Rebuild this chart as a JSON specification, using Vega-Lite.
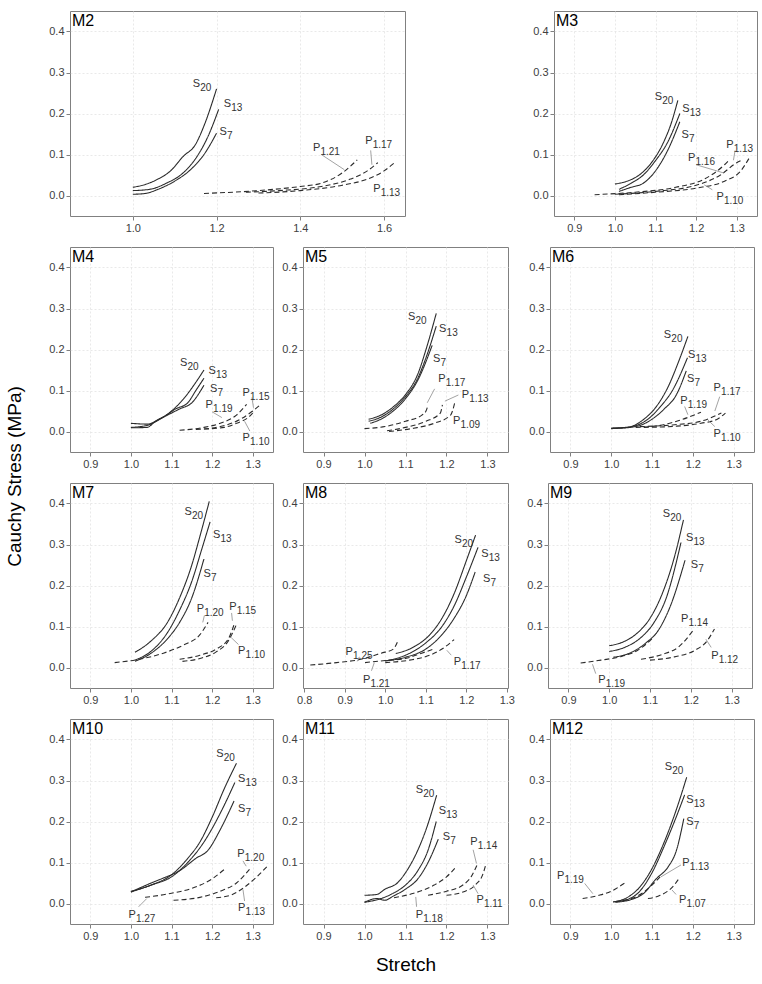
{
"$schema": "https://vega.github.io/schema/vega-lite/v6.json",
"padding": {"left": 5, "top": 10, "right": 5, "bottom": 4},
"title": {"text": "Cauchy Stress (MPa)", "orient": "left", "anchor": "middle", "fontSize": 19, "fontWeight": "normal", "font": "Liberation Sans", "color": "#000", "offset": 14, "dx": 16},
"config": {
  "font": "Liberation Sans",
  "view": {"stroke": "#808080", "strokeWidth": 1},
  "axis": {"labelFont": "Liberation Sans", "labelFontSize": 11, "labelColor": "#404040", "tickColor": "#808080", "tickSize": 4, "labelPadding": 2, "domain": false, "grid": true, "gridColor": "#e3e3e3", "gridDash": [2, 2], "gridWidth": 0.8, "titleFont": "Liberation Sans", "titleFontWeight": "normal", "titleColor": "#000", "titleFontSize": 19},
  "axisX": {"minExtent": 20, "maxExtent": 20, "titlePadding": 11},
  "line": {"interpolate": "monotone"},
  "text": {"font": "Liberation Sans"}
},
"datasets": {
"c": [
{"p":"M2","c":"S20","t":"S","x":1.0,"y":0.02},{"p":"M2","c":"S20","t":"S","x":1.03,"y":0.027},{"p":"M2","c":"S20","t":"S","x":1.06,"y":0.04},{"p":"M2","c":"S20","t":"S","x":1.09,"y":0.06},{"p":"M2","c":"S20","t":"S","x":1.12,"y":0.095},{"p":"M2","c":"S20","t":"S","x":1.15,"y":0.125},{"p":"M2","c":"S20","t":"S","x":1.17,"y":0.17},{"p":"M2","c":"S20","t":"S","x":1.2,"y":0.26},
{"p":"M2","c":"S13","t":"S","x":1.0,"y":0.012},{"p":"M2","c":"S13","t":"S","x":1.04,"y":0.015},{"p":"M2","c":"S13","t":"S","x":1.08,"y":0.03},{"p":"M2","c":"S13","t":"S","x":1.12,"y":0.055},{"p":"M2","c":"S13","t":"S","x":1.15,"y":0.09},{"p":"M2","c":"S13","t":"S","x":1.18,"y":0.145},{"p":"M2","c":"S13","t":"S","x":1.205,"y":0.21},
{"p":"M2","c":"S7","t":"S","x":1.0,"y":0.003},{"p":"M2","c":"S7","t":"S","x":1.03,"y":0.005},{"p":"M2","c":"S7","t":"S","x":1.06,"y":0.015},{"p":"M2","c":"S7","t":"S","x":1.1,"y":0.035},{"p":"M2","c":"S7","t":"S","x":1.14,"y":0.065},{"p":"M2","c":"S7","t":"S","x":1.17,"y":0.1},{"p":"M2","c":"S7","t":"S","x":1.2,"y":0.152},
{"p":"M2","c":"P121","t":"P","x":1.17,"y":0.005},{"p":"M2","c":"P121","t":"P","x":1.3,"y":0.012},{"p":"M2","c":"P121","t":"P","x":1.4,"y":0.022},{"p":"M2","c":"P121","t":"P","x":1.45,"y":0.03},{"p":"M2","c":"P121","t":"P","x":1.5,"y":0.055},{"p":"M2","c":"P121","t":"P","x":1.536,"y":0.087},
{"p":"M2","c":"P117","t":"P","x":1.27,"y":0.008},{"p":"M2","c":"P117","t":"P","x":1.35,"y":0.012},{"p":"M2","c":"P117","t":"P","x":1.45,"y":0.022},{"p":"M2","c":"P117","t":"P","x":1.52,"y":0.04},{"p":"M2","c":"P117","t":"P","x":1.56,"y":0.06},{"p":"M2","c":"P117","t":"P","x":1.585,"y":0.08},
{"p":"M2","c":"P113","t":"P","x":1.3,"y":0.006},{"p":"M2","c":"P113","t":"P","x":1.4,"y":0.012},{"p":"M2","c":"P113","t":"P","x":1.5,"y":0.025},{"p":"M2","c":"P113","t":"P","x":1.56,"y":0.04},{"p":"M2","c":"P113","t":"P","x":1.6,"y":0.06},{"p":"M2","c":"P113","t":"P","x":1.625,"y":0.08},

{"p":"M3","c":"S20","t":"S","x":1.0,"y":0.028},{"p":"M3","c":"S20","t":"S","x":1.03,"y":0.035},{"p":"M3","c":"S20","t":"S","x":1.06,"y":0.05},{"p":"M3","c":"S20","t":"S","x":1.09,"y":0.08},{"p":"M3","c":"S20","t":"S","x":1.12,"y":0.13},{"p":"M3","c":"S20","t":"S","x":1.14,"y":0.18},{"p":"M3","c":"S20","t":"S","x":1.155,"y":0.232},
{"p":"M3","c":"S13","t":"S","x":1.01,"y":0.015},{"p":"M3","c":"S13","t":"S","x":1.04,"y":0.03},{"p":"M3","c":"S13","t":"S","x":1.07,"y":0.05},{"p":"M3","c":"S13","t":"S","x":1.1,"y":0.085},{"p":"M3","c":"S13","t":"S","x":1.13,"y":0.13},{"p":"M3","c":"S13","t":"S","x":1.16,"y":0.2},
{"p":"M3","c":"S7","t":"S","x":1.01,"y":0.01},{"p":"M3","c":"S7","t":"S","x":1.04,"y":0.02},{"p":"M3","c":"S7","t":"S","x":1.07,"y":0.03},{"p":"M3","c":"S7","t":"S","x":1.1,"y":0.06},{"p":"M3","c":"S7","t":"S","x":1.13,"y":0.11},{"p":"M3","c":"S7","t":"S","x":1.16,"y":0.18},
{"p":"M3","c":"P116","t":"P","x":0.95,"y":0.002},{"p":"M3","c":"P116","t":"P","x":1.05,"y":0.008},{"p":"M3","c":"P116","t":"P","x":1.15,"y":0.02},{"p":"M3","c":"P116","t":"P","x":1.22,"y":0.04},{"p":"M3","c":"P116","t":"P","x":1.27,"y":0.075},{"p":"M3","c":"P116","t":"P","x":1.28,"y":0.085},
{"p":"M3","c":"P113","t":"P","x":1.0,"y":0.003},{"p":"M3","c":"P113","t":"P","x":1.1,"y":0.01},{"p":"M3","c":"P113","t":"P","x":1.2,"y":0.025},{"p":"M3","c":"P113","t":"P","x":1.26,"y":0.05},{"p":"M3","c":"P113","t":"P","x":1.3,"y":0.08},{"p":"M3","c":"P113","t":"P","x":1.31,"y":0.085},
{"p":"M3","c":"P110","t":"P","x":1.01,"y":0.002},{"p":"M3","c":"P110","t":"P","x":1.1,"y":0.008},{"p":"M3","c":"P110","t":"P","x":1.2,"y":0.018},{"p":"M3","c":"P110","t":"P","x":1.27,"y":0.035},{"p":"M3","c":"P110","t":"P","x":1.31,"y":0.06},{"p":"M3","c":"P110","t":"P","x":1.33,"y":0.09},

{"p":"M4","c":"S20","t":"S","x":1.0,"y":0.02},{"p":"M4","c":"S20","t":"S","x":1.04,"y":0.018},{"p":"M4","c":"S20","t":"S","x":1.07,"y":0.03},{"p":"M4","c":"S20","t":"S","x":1.1,"y":0.05},{"p":"M4","c":"S20","t":"S","x":1.13,"y":0.08},{"p":"M4","c":"S20","t":"S","x":1.16,"y":0.12},{"p":"M4","c":"S20","t":"S","x":1.18,"y":0.15},
{"p":"M4","c":"S13","t":"S","x":1.0,"y":0.01},{"p":"M4","c":"S13","t":"S","x":1.04,"y":0.015},{"p":"M4","c":"S13","t":"S","x":1.08,"y":0.035},{"p":"M4","c":"S13","t":"S","x":1.11,"y":0.055},{"p":"M4","c":"S13","t":"S","x":1.14,"y":0.07},{"p":"M4","c":"S13","t":"S","x":1.16,"y":0.1},{"p":"M4","c":"S13","t":"S","x":1.18,"y":0.13},
{"p":"M4","c":"S7","t":"S","x":1.0,"y":0.009},{"p":"M4","c":"S7","t":"S","x":1.04,"y":0.01},{"p":"M4","c":"S7","t":"S","x":1.06,"y":0.025},{"p":"M4","c":"S7","t":"S","x":1.09,"y":0.04},{"p":"M4","c":"S7","t":"S","x":1.12,"y":0.055},{"p":"M4","c":"S7","t":"S","x":1.15,"y":0.07},{"p":"M4","c":"S7","t":"S","x":1.18,"y":0.113},
{"p":"M4","c":"P119","t":"P","x":1.12,"y":0.003},{"p":"M4","c":"P119","t":"P","x":1.18,"y":0.01},{"p":"M4","c":"P119","t":"P","x":1.22,"y":0.02},{"p":"M4","c":"P119","t":"P","x":1.26,"y":0.04},{"p":"M4","c":"P119","t":"P","x":1.285,"y":0.066},
{"p":"M4","c":"P115","t":"P","x":1.16,"y":0.005},{"p":"M4","c":"P115","t":"P","x":1.22,"y":0.012},{"p":"M4","c":"P115","t":"P","x":1.27,"y":0.03},{"p":"M4","c":"P115","t":"P","x":1.3,"y":0.05},{"p":"M4","c":"P115","t":"P","x":1.32,"y":0.066},
{"p":"M4","c":"P110","t":"P","x":1.18,"y":0.006},{"p":"M4","c":"P110","t":"P","x":1.23,"y":0.01},{"p":"M4","c":"P110","t":"P","x":1.26,"y":0.02},{"p":"M4","c":"P110","t":"P","x":1.29,"y":0.035},{"p":"M4","c":"P110","t":"P","x":1.3,"y":0.045},

{"p":"M5","c":"S20","t":"S","x":1.01,"y":0.03},{"p":"M5","c":"S20","t":"S","x":1.04,"y":0.04},{"p":"M5","c":"S20","t":"S","x":1.07,"y":0.06},{"p":"M5","c":"S20","t":"S","x":1.1,"y":0.09},{"p":"M5","c":"S20","t":"S","x":1.13,"y":0.14},{"p":"M5","c":"S20","t":"S","x":1.15,"y":0.2},{"p":"M5","c":"S20","t":"S","x":1.175,"y":0.288},
{"p":"M5","c":"S13","t":"S","x":1.01,"y":0.025},{"p":"M5","c":"S13","t":"S","x":1.04,"y":0.035},{"p":"M5","c":"S13","t":"S","x":1.07,"y":0.055},{"p":"M5","c":"S13","t":"S","x":1.1,"y":0.085},{"p":"M5","c":"S13","t":"S","x":1.13,"y":0.13},{"p":"M5","c":"S13","t":"S","x":1.15,"y":0.18},{"p":"M5","c":"S13","t":"S","x":1.175,"y":0.257},
{"p":"M5","c":"S7","t":"S","x":1.014,"y":0.02},{"p":"M5","c":"S7","t":"S","x":1.04,"y":0.03},{"p":"M5","c":"S7","t":"S","x":1.07,"y":0.05},{"p":"M5","c":"S7","t":"S","x":1.1,"y":0.08},{"p":"M5","c":"S7","t":"S","x":1.13,"y":0.125},{"p":"M5","c":"S7","t":"S","x":1.165,"y":0.21},
{"p":"M5","c":"P117","t":"P","x":1.0,"y":0.007},{"p":"M5","c":"P117","t":"P","x":1.05,"y":0.012},{"p":"M5","c":"P117","t":"P","x":1.1,"y":0.025},{"p":"M5","c":"P117","t":"P","x":1.14,"y":0.04},{"p":"M5","c":"P117","t":"P","x":1.15,"y":0.05},{"p":"M5","c":"P117","t":"P","x":1.155,"y":0.065},
{"p":"M5","c":"P113","t":"P","x":1.055,"y":0.002},{"p":"M5","c":"P113","t":"P","x":1.1,"y":0.01},{"p":"M5","c":"P113","t":"P","x":1.15,"y":0.025},{"p":"M5","c":"P113","t":"P","x":1.185,"y":0.045},{"p":"M5","c":"P113","t":"P","x":1.19,"y":0.065},
{"p":"M5","c":"P109","t":"P","x":1.06,"y":0.0},{"p":"M5","c":"P109","t":"P","x":1.12,"y":0.008},{"p":"M5","c":"P109","t":"P","x":1.17,"y":0.02},{"p":"M5","c":"P109","t":"P","x":1.21,"y":0.04},{"p":"M5","c":"P109","t":"P","x":1.22,"y":0.07},

{"p":"M6","c":"S20","t":"S","x":1.0,"y":0.008},{"p":"M6","c":"S20","t":"S","x":1.04,"y":0.01},{"p":"M6","c":"S20","t":"S","x":1.08,"y":0.03},{"p":"M6","c":"S20","t":"S","x":1.11,"y":0.06},{"p":"M6","c":"S20","t":"S","x":1.14,"y":0.11},{"p":"M6","c":"S20","t":"S","x":1.165,"y":0.17},{"p":"M6","c":"S20","t":"S","x":1.188,"y":0.232},
{"p":"M6","c":"S13","t":"S","x":1.0,"y":0.008},{"p":"M6","c":"S13","t":"S","x":1.05,"y":0.012},{"p":"M6","c":"S13","t":"S","x":1.09,"y":0.03},{"p":"M6","c":"S13","t":"S","x":1.12,"y":0.06},{"p":"M6","c":"S13","t":"S","x":1.15,"y":0.1},{"p":"M6","c":"S13","t":"S","x":1.187,"y":0.18},
{"p":"M6","c":"S7","t":"S","x":1.0,"y":0.007},{"p":"M6","c":"S7","t":"S","x":1.06,"y":0.012},{"p":"M6","c":"S7","t":"S","x":1.1,"y":0.03},{"p":"M6","c":"S7","t":"S","x":1.13,"y":0.055},{"p":"M6","c":"S7","t":"S","x":1.16,"y":0.09},{"p":"M6","c":"S7","t":"S","x":1.184,"y":0.148},
{"p":"M6","c":"P119","t":"P","x":1.06,"y":0.01},{"p":"M6","c":"P119","t":"P","x":1.12,"y":0.015},{"p":"M6","c":"P119","t":"P","x":1.17,"y":0.028},{"p":"M6","c":"P119","t":"P","x":1.22,"y":0.047},
{"p":"M6","c":"P117","t":"P","x":1.07,"y":0.012},{"p":"M6","c":"P117","t":"P","x":1.15,"y":0.016},{"p":"M6","c":"P117","t":"P","x":1.22,"y":0.025},{"p":"M6","c":"P117","t":"P","x":1.27,"y":0.045},
{"p":"M6","c":"P110","t":"P","x":1.08,"y":0.01},{"p":"M6","c":"P110","t":"P","x":1.16,"y":0.013},{"p":"M6","c":"P110","t":"P","x":1.22,"y":0.02},{"p":"M6","c":"P110","t":"P","x":1.26,"y":0.03},{"p":"M6","c":"P110","t":"P","x":1.28,"y":0.045},

{"p":"M7","c":"S20","t":"S","x":1.01,"y":0.037},{"p":"M7","c":"S20","t":"S","x":1.05,"y":0.065},{"p":"M7","c":"S20","t":"S","x":1.09,"y":0.11},{"p":"M7","c":"S20","t":"S","x":1.12,"y":0.17},{"p":"M7","c":"S20","t":"S","x":1.15,"y":0.25},{"p":"M7","c":"S20","t":"S","x":1.17,"y":0.32},{"p":"M7","c":"S20","t":"S","x":1.193,"y":0.405},
{"p":"M7","c":"S13","t":"S","x":1.01,"y":0.018},{"p":"M7","c":"S13","t":"S","x":1.05,"y":0.04},{"p":"M7","c":"S13","t":"S","x":1.09,"y":0.085},{"p":"M7","c":"S13","t":"S","x":1.12,"y":0.14},{"p":"M7","c":"S13","t":"S","x":1.15,"y":0.21},{"p":"M7","c":"S13","t":"S","x":1.175,"y":0.29},{"p":"M7","c":"S13","t":"S","x":1.195,"y":0.355},
{"p":"M7","c":"S7","t":"S","x":1.01,"y":0.015},{"p":"M7","c":"S7","t":"S","x":1.05,"y":0.035},{"p":"M7","c":"S7","t":"S","x":1.09,"y":0.07},{"p":"M7","c":"S7","t":"S","x":1.12,"y":0.11},{"p":"M7","c":"S7","t":"S","x":1.15,"y":0.17},{"p":"M7","c":"S7","t":"S","x":1.18,"y":0.265},
{"p":"M7","c":"P120","t":"P","x":0.96,"y":0.012},{"p":"M7","c":"P120","t":"P","x":1.02,"y":0.02},{"p":"M7","c":"P120","t":"P","x":1.08,"y":0.035},{"p":"M7","c":"P120","t":"P","x":1.13,"y":0.055},{"p":"M7","c":"P120","t":"P","x":1.17,"y":0.08},{"p":"M7","c":"P120","t":"P","x":1.19,"y":0.11},
{"p":"M7","c":"P115","t":"P","x":1.12,"y":0.02},{"p":"M7","c":"P115","t":"P","x":1.17,"y":0.03},{"p":"M7","c":"P115","t":"P","x":1.21,"y":0.045},{"p":"M7","c":"P115","t":"P","x":1.24,"y":0.07},{"p":"M7","c":"P115","t":"P","x":1.256,"y":0.11},
{"p":"M7","c":"P110","t":"P","x":1.127,"y":0.015},{"p":"M7","c":"P110","t":"P","x":1.17,"y":0.022},{"p":"M7","c":"P110","t":"P","x":1.21,"y":0.038},{"p":"M7","c":"P110","t":"P","x":1.24,"y":0.065},{"p":"M7","c":"P110","t":"P","x":1.26,"y":0.105},

{"p":"M8","c":"S20","t":"S","x":1.026,"y":0.034},{"p":"M8","c":"S20","t":"S","x":1.07,"y":0.05},{"p":"M8","c":"S20","t":"S","x":1.11,"y":0.08},{"p":"M8","c":"S20","t":"S","x":1.14,"y":0.12},{"p":"M8","c":"S20","t":"S","x":1.17,"y":0.18},{"p":"M8","c":"S20","t":"S","x":1.2,"y":0.26},{"p":"M8","c":"S20","t":"S","x":1.223,"y":0.323},
{"p":"M8","c":"S13","t":"S","x":1.0,"y":0.016},{"p":"M8","c":"S13","t":"S","x":1.05,"y":0.03},{"p":"M8","c":"S13","t":"S","x":1.1,"y":0.06},{"p":"M8","c":"S13","t":"S","x":1.14,"y":0.1},{"p":"M8","c":"S13","t":"S","x":1.17,"y":0.15},{"p":"M8","c":"S13","t":"S","x":1.2,"y":0.22},{"p":"M8","c":"S13","t":"S","x":1.229,"y":0.293},
{"p":"M8","c":"S7","t":"S","x":1.0,"y":0.016},{"p":"M8","c":"S7","t":"S","x":1.05,"y":0.025},{"p":"M8","c":"S7","t":"S","x":1.1,"y":0.045},{"p":"M8","c":"S7","t":"S","x":1.14,"y":0.08},{"p":"M8","c":"S7","t":"S","x":1.17,"y":0.12},{"p":"M8","c":"S7","t":"S","x":1.2,"y":0.175},{"p":"M8","c":"S7","t":"S","x":1.222,"y":0.233},
{"p":"M8","c":"P125","t":"P","x":0.815,"y":0.006},{"p":"M8","c":"P125","t":"P","x":0.88,"y":0.012},{"p":"M8","c":"P125","t":"P","x":0.94,"y":0.02},{"p":"M8","c":"P125","t":"P","x":0.99,"y":0.035},{"p":"M8","c":"P125","t":"P","x":1.02,"y":0.045},{"p":"M8","c":"P125","t":"P","x":1.03,"y":0.062},
{"p":"M8","c":"P121","t":"P","x":0.95,"y":0.012},{"p":"M8","c":"P121","t":"P","x":1.0,"y":0.017},{"p":"M8","c":"P121","t":"P","x":1.05,"y":0.022},{"p":"M8","c":"P121","t":"P","x":1.09,"y":0.035},{"p":"M8","c":"P121","t":"P","x":1.12,"y":0.045},
{"p":"M8","c":"P117","t":"P","x":1.0,"y":0.012},{"p":"M8","c":"P117","t":"P","x":1.06,"y":0.018},{"p":"M8","c":"P117","t":"P","x":1.11,"y":0.03},{"p":"M8","c":"P117","t":"P","x":1.14,"y":0.045},{"p":"M8","c":"P117","t":"P","x":1.17,"y":0.068},

{"p":"M9","c":"S20","t":"S","x":1.0,"y":0.053},{"p":"M9","c":"S20","t":"S","x":1.04,"y":0.065},{"p":"M9","c":"S20","t":"S","x":1.07,"y":0.085},{"p":"M9","c":"S20","t":"S","x":1.1,"y":0.12},{"p":"M9","c":"S20","t":"S","x":1.13,"y":0.18},{"p":"M9","c":"S20","t":"S","x":1.16,"y":0.27},{"p":"M9","c":"S20","t":"S","x":1.182,"y":0.36},
{"p":"M9","c":"S13","t":"S","x":1.0,"y":0.039},{"p":"M9","c":"S13","t":"S","x":1.04,"y":0.05},{"p":"M9","c":"S13","t":"S","x":1.08,"y":0.075},{"p":"M9","c":"S13","t":"S","x":1.11,"y":0.11},{"p":"M9","c":"S13","t":"S","x":1.14,"y":0.17},{"p":"M9","c":"S13","t":"S","x":1.176,"y":0.305},
{"p":"M9","c":"S7","t":"S","x":1.01,"y":0.025},{"p":"M9","c":"S7","t":"S","x":1.05,"y":0.035},{"p":"M9","c":"S7","t":"S","x":1.09,"y":0.06},{"p":"M9","c":"S7","t":"S","x":1.12,"y":0.09},{"p":"M9","c":"S7","t":"S","x":1.15,"y":0.15},{"p":"M9","c":"S7","t":"S","x":1.186,"y":0.262},
{"p":"M9","c":"P119","t":"P","x":0.93,"y":0.011},{"p":"M9","c":"P119","t":"P","x":0.98,"y":0.018},{"p":"M9","c":"P119","t":"P","x":1.03,"y":0.027},{"p":"M9","c":"P119","t":"P","x":1.07,"y":0.042},{"p":"M9","c":"P119","t":"P","x":1.107,"y":0.072},
{"p":"M9","c":"P114","t":"P","x":1.078,"y":0.02},{"p":"M9","c":"P114","t":"P","x":1.13,"y":0.032},{"p":"M9","c":"P114","t":"P","x":1.17,"y":0.05},{"p":"M9","c":"P114","t":"P","x":1.207,"y":0.092},
{"p":"M9","c":"P112","t":"P","x":1.1,"y":0.018},{"p":"M9","c":"P112","t":"P","x":1.16,"y":0.026},{"p":"M9","c":"P112","t":"P","x":1.21,"y":0.042},{"p":"M9","c":"P112","t":"P","x":1.24,"y":0.065},{"p":"M9","c":"P112","t":"P","x":1.258,"y":0.094},

{"p":"M10","c":"S20","t":"S","x":1.0,"y":0.03},{"p":"M10","c":"S20","t":"S","x":1.05,"y":0.045},{"p":"M10","c":"S20","t":"S","x":1.1,"y":0.07},{"p":"M10","c":"S20","t":"S","x":1.14,"y":0.11},{"p":"M10","c":"S20","t":"S","x":1.17,"y":0.15},{"p":"M10","c":"S20","t":"S","x":1.2,"y":0.21},{"p":"M10","c":"S20","t":"S","x":1.23,"y":0.28},{"p":"M10","c":"S20","t":"S","x":1.26,"y":0.342},
{"p":"M10","c":"S13","t":"S","x":1.0,"y":0.028},{"p":"M10","c":"S13","t":"S","x":1.05,"y":0.045},{"p":"M10","c":"S13","t":"S","x":1.1,"y":0.065},{"p":"M10","c":"S13","t":"S","x":1.14,"y":0.1},{"p":"M10","c":"S13","t":"S","x":1.18,"y":0.15},{"p":"M10","c":"S13","t":"S","x":1.22,"y":0.22},{"p":"M10","c":"S13","t":"S","x":1.256,"y":0.295},
{"p":"M10","c":"S7","t":"S","x":1.0,"y":0.028},{"p":"M10","c":"S7","t":"S","x":1.05,"y":0.05},{"p":"M10","c":"S7","t":"S","x":1.08,"y":0.062},{"p":"M10","c":"S7","t":"S","x":1.12,"y":0.08},{"p":"M10","c":"S7","t":"S","x":1.16,"y":0.11},{"p":"M10","c":"S7","t":"S","x":1.19,"y":0.13},{"p":"M10","c":"S7","t":"S","x":1.22,"y":0.18},{"p":"M10","c":"S7","t":"S","x":1.254,"y":0.25},
{"p":"M10","c":"P127","t":"P","x":1.035,"y":0.015},{"p":"M10","c":"P127","t":"P","x":1.1,"y":0.025},{"p":"M10","c":"P127","t":"P","x":1.15,"y":0.037},{"p":"M10","c":"P127","t":"P","x":1.2,"y":0.06},{"p":"M10","c":"P127","t":"P","x":1.23,"y":0.083},
{"p":"M10","c":"P120","t":"P","x":1.105,"y":0.008},{"p":"M10","c":"P120","t":"P","x":1.17,"y":0.015},{"p":"M10","c":"P120","t":"P","x":1.22,"y":0.03},{"p":"M10","c":"P120","t":"P","x":1.26,"y":0.05},{"p":"M10","c":"P120","t":"P","x":1.296,"y":0.088},
{"p":"M10","c":"P113","t":"P","x":1.21,"y":0.014},{"p":"M10","c":"P113","t":"P","x":1.25,"y":0.022},{"p":"M10","c":"P113","t":"P","x":1.28,"y":0.04},{"p":"M10","c":"P113","t":"P","x":1.31,"y":0.065},{"p":"M10","c":"P113","t":"P","x":1.335,"y":0.09},

{"p":"M11","c":"S20","t":"S","x":1.0,"y":0.02},{"p":"M11","c":"S20","t":"S","x":1.03,"y":0.022},{"p":"M11","c":"S20","t":"S","x":1.05,"y":0.035},{"p":"M11","c":"S20","t":"S","x":1.08,"y":0.05},{"p":"M11","c":"S20","t":"S","x":1.1,"y":0.075},{"p":"M11","c":"S20","t":"S","x":1.13,"y":0.13},{"p":"M11","c":"S20","t":"S","x":1.15,"y":0.18},{"p":"M11","c":"S20","t":"S","x":1.176,"y":0.264},
{"p":"M11","c":"S13","t":"S","x":1.0,"y":0.003},{"p":"M11","c":"S13","t":"S","x":1.04,"y":0.012},{"p":"M11","c":"S13","t":"S","x":1.07,"y":0.025},{"p":"M11","c":"S13","t":"S","x":1.1,"y":0.045},{"p":"M11","c":"S13","t":"S","x":1.13,"y":0.08},{"p":"M11","c":"S13","t":"S","x":1.155,"y":0.13},{"p":"M11","c":"S13","t":"S","x":1.175,"y":0.2},
{"p":"M11","c":"S7","t":"S","x":1.0,"y":0.003},{"p":"M11","c":"S7","t":"S","x":1.03,"y":0.012},{"p":"M11","c":"S7","t":"S","x":1.05,"y":0.008},{"p":"M11","c":"S7","t":"S","x":1.07,"y":0.018},{"p":"M11","c":"S7","t":"S","x":1.1,"y":0.035},{"p":"M11","c":"S7","t":"S","x":1.13,"y":0.06},{"p":"M11","c":"S7","t":"S","x":1.155,"y":0.1},{"p":"M11","c":"S7","t":"S","x":1.18,"y":0.157},
{"p":"M11","c":"P118","t":"P","x":1.072,"y":0.014},{"p":"M11","c":"P118","t":"P","x":1.12,"y":0.025},{"p":"M11","c":"P118","t":"P","x":1.17,"y":0.045},{"p":"M11","c":"P118","t":"P","x":1.2,"y":0.065},{"p":"M11","c":"P118","t":"P","x":1.224,"y":0.09},
{"p":"M11","c":"P114","t":"P","x":1.155,"y":0.02},{"p":"M11","c":"P114","t":"P","x":1.2,"y":0.03},{"p":"M11","c":"P114","t":"P","x":1.24,"y":0.045},{"p":"M11","c":"P114","t":"P","x":1.26,"y":0.065},{"p":"M11","c":"P114","t":"P","x":1.275,"y":0.095},
{"p":"M11","c":"P111","t":"P","x":1.2,"y":0.02},{"p":"M11","c":"P111","t":"P","x":1.24,"y":0.028},{"p":"M11","c":"P111","t":"P","x":1.27,"y":0.045},{"p":"M11","c":"P111","t":"P","x":1.29,"y":0.075},{"p":"M11","c":"P111","t":"P","x":1.295,"y":0.092},

{"p":"M12","c":"S20","t":"S","x":1.005,"y":0.004},{"p":"M12","c":"S20","t":"S","x":1.04,"y":0.015},{"p":"M12","c":"S20","t":"S","x":1.07,"y":0.04},{"p":"M12","c":"S20","t":"S","x":1.1,"y":0.085},{"p":"M12","c":"S20","t":"S","x":1.13,"y":0.15},{"p":"M12","c":"S20","t":"S","x":1.16,"y":0.23},{"p":"M12","c":"S20","t":"S","x":1.185,"y":0.308},
{"p":"M12","c":"S13","t":"S","x":1.005,"y":0.004},{"p":"M12","c":"S13","t":"S","x":1.04,"y":0.01},{"p":"M12","c":"S13","t":"S","x":1.07,"y":0.03},{"p":"M12","c":"S13","t":"S","x":1.1,"y":0.075},{"p":"M12","c":"S13","t":"S","x":1.13,"y":0.14},{"p":"M12","c":"S13","t":"S","x":1.155,"y":0.2},{"p":"M12","c":"S13","t":"S","x":1.18,"y":0.265},
{"p":"M12","c":"S7","t":"S","x":1.01,"y":0.003},{"p":"M12","c":"S7","t":"S","x":1.05,"y":0.01},{"p":"M12","c":"S7","t":"S","x":1.08,"y":0.025},{"p":"M12","c":"S7","t":"S","x":1.11,"y":0.06},{"p":"M12","c":"S7","t":"S","x":1.14,"y":0.09},{"p":"M12","c":"S7","t":"S","x":1.16,"y":0.13},{"p":"M12","c":"S7","t":"S","x":1.178,"y":0.207},
{"p":"M12","c":"P119","t":"P","x":0.93,"y":0.012},{"p":"M12","c":"P119","t":"P","x":0.97,"y":0.02},{"p":"M12","c":"P119","t":"P","x":1.0,"y":0.03},{"p":"M12","c":"P119","t":"P","x":1.033,"y":0.05},
{"p":"M12","c":"P113","t":"P","x":1.01,"y":0.005},{"p":"M12","c":"P113","t":"P","x":1.05,"y":0.012},{"p":"M12","c":"P113","t":"P","x":1.08,"y":0.028},{"p":"M12","c":"P113","t":"P","x":1.1,"y":0.045},{"p":"M12","c":"P113","t":"P","x":1.12,"y":0.065},
{"p":"M12","c":"P107","t":"P","x":1.09,"y":0.012},{"p":"M12","c":"P107","t":"P","x":1.12,"y":0.02},{"p":"M12","c":"P107","t":"P","x":1.15,"y":0.04},{"p":"M12","c":"P107","t":"P","x":1.167,"y":0.062}
],
"l": [
{"p":"M2","m":"S","s":"20","x":1.143,"y":0.273},{"p":"M2","m":"S","s":"13","x":1.217,"y":0.224},{"p":"M2","m":"S","s":"7","x":1.207,"y":0.156},{"p":"M2","m":"P","s":"1.21","x":1.43,"y":0.115},{"p":"M2","m":"P","s":"1.17","x":1.555,"y":0.132},{"p":"M2","m":"P","s":"1.13","x":1.574,"y":0.017},
{"p":"M3","m":"S","s":"20","x":1.098,"y":0.24},{"p":"M3","m":"S","s":"13","x":1.166,"y":0.21},{"p":"M3","m":"S","s":"7","x":1.164,"y":0.148},{"p":"M3","m":"P","s":"1.16","x":1.18,"y":0.092},{"p":"M3","m":"P","s":"1.13","x":1.274,"y":0.124},{"p":"M3","m":"P","s":"1.10","x":1.25,"y":-0.004},
{"p":"M4","m":"S","s":"20","x":1.121,"y":0.167},{"p":"M4","m":"S","s":"13","x":1.191,"y":0.148},{"p":"M4","m":"S","s":"7","x":1.195,"y":0.103},{"p":"M4","m":"P","s":"1.15","x":1.275,"y":0.095},{"p":"M4","m":"P","s":"1.19","x":1.184,"y":0.065},{"p":"M4","m":"P","s":"1.10","x":1.275,"y":-0.016},
{"p":"M5","m":"S","s":"20","x":1.106,"y":0.28},{"p":"M5","m":"S","s":"13","x":1.182,"y":0.251},{"p":"M5","m":"S","s":"7","x":1.167,"y":0.176},{"p":"M5","m":"P","s":"1.17","x":1.18,"y":0.127},{"p":"M5","m":"P","s":"1.13","x":1.237,"y":0.09},{"p":"M5","m":"P","s":"1.09","x":1.216,"y":0.025},
{"p":"M6","m":"S","s":"20","x":1.129,"y":0.236},{"p":"M6","m":"S","s":"13","x":1.188,"y":0.187},{"p":"M6","m":"S","s":"7","x":1.186,"y":0.128},{"p":"M6","m":"P","s":"1.17","x":1.251,"y":0.106},{"p":"M6","m":"P","s":"1.19","x":1.169,"y":0.075},{"p":"M6","m":"P","s":"1.10","x":1.251,"y":-0.007},
{"p":"M7","m":"S","s":"20","x":1.132,"y":0.38},{"p":"M7","m":"S","s":"13","x":1.202,"y":0.322},{"p":"M7","m":"S","s":"7","x":1.179,"y":0.229},{"p":"M7","m":"P","s":"1.20","x":1.162,"y":0.143},{"p":"M7","m":"P","s":"1.15","x":1.242,"y":0.147},{"p":"M7","m":"P","s":"1.10","x":1.264,"y":0.041},
{"p":"M8","m":"S","s":"20","x":1.171,"y":0.31},{"p":"M8","m":"S","s":"13","x":1.237,"y":0.276},{"p":"M8","m":"S","s":"7","x":1.241,"y":0.217},{"p":"M8","m":"P","s":"1.25","x":0.902,"y":0.037},{"p":"M8","m":"P","s":"1.21","x":0.945,"y":-0.031},{"p":"M8","m":"P","s":"1.17","x":1.169,"y":0.014},
{"p":"M9","m":"S","s":"20","x":1.131,"y":0.375},{"p":"M9","m":"S","s":"13","x":1.188,"y":0.317},{"p":"M9","m":"S","s":"7","x":1.2,"y":0.251},{"p":"M9","m":"P","s":"1.14","x":1.176,"y":0.118},{"p":"M9","m":"P","s":"1.12","x":1.25,"y":0.029},{"p":"M9","m":"P","s":"1.19","x":0.973,"y":-0.031},
{"p":"M10","m":"S","s":"20","x":1.21,"y":0.365},{"p":"M10","m":"S","s":"13","x":1.264,"y":0.304},{"p":"M10","m":"S","s":"7","x":1.264,"y":0.23},{"p":"M10","m":"P","s":"1.20","x":1.262,"y":0.12},{"p":"M10","m":"P","s":"1.27","x":0.994,"y":-0.027},{"p":"M10","m":"P","s":"1.13","x":1.264,"y":-0.012},
{"p":"M11","m":"S","s":"20","x":1.125,"y":0.276},{"p":"M11","m":"S","s":"13","x":1.181,"y":0.226},{"p":"M11","m":"S","s":"7","x":1.191,"y":0.161},{"p":"M11","m":"P","s":"1.14","x":1.258,"y":0.151},{"p":"M11","m":"P","s":"1.18","x":1.125,"y":-0.029},{"p":"M11","m":"P","s":"1.11","x":1.273,"y":0.008},
{"p":"M12","m":"S","s":"20","x":1.131,"y":0.332},{"p":"M12","m":"S","s":"13","x":1.184,"y":0.253},{"p":"M12","m":"S","s":"7","x":1.184,"y":0.2},{"p":"M12","m":"P","s":"1.13","x":1.174,"y":0.1},{"p":"M12","m":"P","s":"1.19","x":0.867,"y":0.068},{"p":"M12","m":"P","s":"1.07","x":1.166,"y":0.008}
],
"k": [
{"p":"M2","x":1.45,"y":0.1,"x2":1.505,"y2":0.063},{"p":"M2","x":1.568,"y":0.11,"x2":1.571,"y2":0.075},
{"p":"M3","x":1.2,"y":0.075,"x2":1.268,"y2":0.055},{"p":"M3","x":1.296,"y":0.11,"x2":1.292,"y2":0.086},{"p":"M3","x":1.24,"y":0.014,"x2":1.22,"y2":0.026},
{"p":"M4","x":1.298,"y":0.083,"x2":1.302,"y2":0.058},{"p":"M4","x":1.2,"y":0.048,"x2":1.224,"y2":0.034},{"p":"M4","x":1.293,"y":0.001,"x2":1.28,"y2":0.025},
{"p":"M5","x":1.171,"y":0.104,"x2":1.153,"y2":0.07},{"p":"M5","x":1.229,"y":0.089,"x2":1.196,"y2":0.074},
{"p":"M6","x":1.18,"y":0.061,"x2":1.188,"y2":0.041},{"p":"M6","x":1.266,"y":0.085,"x2":1.254,"y2":0.05},{"p":"M6","x":1.254,"y":0.012,"x2":1.237,"y2":0.028},
{"p":"M7","x":1.181,"y":0.127,"x2":1.177,"y2":0.11},{"p":"M7","x":1.248,"y":0.133,"x2":1.25,"y2":0.114},{"p":"M7","x":1.265,"y":0.056,"x2":1.247,"y2":0.073},
{"p":"M8","x":0.936,"y":0.026,"x2":0.931,"y2":0.015},{"p":"M8","x":0.966,"y":-0.008,"x2":0.973,"y2":0.012},{"p":"M8","x":1.163,"y":0.03,"x2":1.152,"y2":0.042},
{"p":"M9","x":0.967,"y":-0.015,"x2":0.959,"y2":0.008},{"p":"M9","x":1.25,"y":0.049,"x2":1.237,"y2":0.069},
{"p":"M10","x":1.276,"y":0.104,"x2":1.284,"y2":0.091},{"p":"M10","x":1.28,"y":0.006,"x2":1.276,"y2":0.034},{"p":"M10","x":1.019,"y":-0.008,"x2":1.039,"y2":0.012},
{"p":"M11","x":1.265,"y":0.131,"x2":1.273,"y2":0.098},{"p":"M11","x":1.127,"y":-0.008,"x2":1.125,"y2":0.016},{"p":"M11","x":1.277,"y":0.024,"x2":1.265,"y2":0.045},
{"p":"M12","x":0.935,"y":0.049,"x2":0.955,"y2":0.024},{"p":"M12","x":1.171,"y":0.094,"x2":1.122,"y2":0.065},{"p":"M12","x":1.159,"y":0.022,"x2":1.149,"y2":0.033}
]
},
"vconcat": [
{"hconcat": [
 {"width": 335, "height": 205, "layer": [
  {"data": {"name": "c"}, "transform": [{"filter": "datum.p === 'M2'"}], "mark": {"type": "line", "color": "#2b2b2b", "strokeWidth": 1.1},
   "encoding": {"x": {"field": "x", "type": "quantitative", "scale": {"domain": [0.85, 1.65], "nice": false, "zero": false}, "axis": {"values": [1.0, 1.2, 1.4, 1.6], "format": ".1f", "title": null}},
    "y": {"field": "y", "type": "quantitative", "scale": {"domain": [-0.05, 0.45], "nice": false, "zero": false}, "axis": {"values": [0, 0.1, 0.2, 0.3, 0.4], "format": ".1f", "title": null, "minExtent": 25, "maxExtent": 25}},
    "detail": {"field": "c"}, "strokeDash": {"field": "t", "type": "nominal", "scale": {"domain": ["S", "P"], "range": [[1, 0], [5, 3]]}, "legend": null}}},
  {"data": {"name": "k"}, "transform": [{"filter": "datum.p === 'M2'"}], "mark": {"type": "rule", "color": "#8c8c8c", "strokeWidth": 0.8}, "encoding": {"x": {"field": "x", "type": "quantitative"}, "y": {"field": "y", "type": "quantitative"}, "x2": {"field": "x2"}, "y2": {"field": "y2"}}},
  {"data": {"name": "l"}, "transform": [{"filter": "datum.p === 'M2'"}], "mark": {"type": "text", "align": "left", "baseline": "middle", "fontSize": 11, "color": "#333"}, "encoding": {"x": {"field": "x", "type": "quantitative"}, "y": {"field": "y", "type": "quantitative"}, "text": {"field": "m"}}},
  {"data": {"name": "l"}, "transform": [{"filter": "datum.p === 'M2'"}], "mark": {"type": "text", "align": "left", "baseline": "middle", "fontSize": 10, "dx": 7.5, "dy": 4, "color": "#333"}, "encoding": {"x": {"field": "x", "type": "quantitative"}, "y": {"field": "y", "type": "quantitative"}, "text": {"field": "s"}}},
  {"data": {"values": [{}]}, "mark": {"type": "text", "align": "left", "baseline": "top", "fontSize": 16, "dx": 2, "dy": 2, "color": "#000"}, "encoding": {"x": {"datum": 0.85, "type": "quantitative"}, "y": {"datum": 0.45, "type": "quantitative"}, "text": {"value": "M2"}}}
 ]},
 {"width": 203, "height": 205, "layer": [
  {"data": {"name": "c"}, "transform": [{"filter": "datum.p === 'M3'"}], "mark": {"type": "line", "color": "#2b2b2b", "strokeWidth": 1.1},
   "encoding": {"x": {"field": "x", "type": "quantitative", "scale": {"domain": [0.85, 1.35], "nice": false, "zero": false}, "axis": {"values": [0.9, 1.0, 1.1, 1.2, 1.3], "format": ".1f", "title": null}},
    "y": {"field": "y", "type": "quantitative", "scale": {"domain": [-0.05, 0.45], "nice": false, "zero": false}, "axis": {"values": [0, 0.1, 0.2, 0.3, 0.4], "format": ".1f", "title": null, "minExtent": 40, "maxExtent": 40}},
    "detail": {"field": "c"}, "strokeDash": {"field": "t", "type": "nominal", "scale": {"domain": ["S", "P"], "range": [[1, 0], [5, 3]]}, "legend": null}}},
  {"data": {"name": "k"}, "transform": [{"filter": "datum.p === 'M3'"}], "mark": {"type": "rule", "color": "#8c8c8c", "strokeWidth": 0.8}, "encoding": {"x": {"field": "x", "type": "quantitative"}, "y": {"field": "y", "type": "quantitative"}, "x2": {"field": "x2"}, "y2": {"field": "y2"}}},
  {"data": {"name": "l"}, "transform": [{"filter": "datum.p === 'M3'"}], "mark": {"type": "text", "align": "left", "baseline": "middle", "fontSize": 11, "color": "#333"}, "encoding": {"x": {"field": "x", "type": "quantitative"}, "y": {"field": "y", "type": "quantitative"}, "text": {"field": "m"}}},
  {"data": {"name": "l"}, "transform": [{"filter": "datum.p === 'M3'"}], "mark": {"type": "text", "align": "left", "baseline": "middle", "fontSize": 10, "dx": 7.5, "dy": 4, "color": "#333"}, "encoding": {"x": {"field": "x", "type": "quantitative"}, "y": {"field": "y", "type": "quantitative"}, "text": {"field": "s"}}},
  {"data": {"values": [{}]}, "mark": {"type": "text", "align": "left", "baseline": "top", "fontSize": 16, "dx": 2, "dy": 2, "color": "#000"}, "encoding": {"x": {"datum": 0.85, "type": "quantitative"}, "y": {"datum": 0.45, "type": "quantitative"}, "text": {"value": "M3"}}}
 ]}
], "spacing": 107},
{"hconcat": [
 {"width": 203, "height": 205, "layer": [
  {"data": {"name": "c"}, "transform": [{"filter": "datum.p === 'M4'"}], "mark": {"type": "line", "color": "#2b2b2b", "strokeWidth": 1.1},
   "encoding": {"x": {"field": "x", "type": "quantitative", "scale": {"domain": [0.85, 1.35], "nice": false, "zero": false}, "axis": {"values": [0.9, 1.0, 1.1, 1.2, 1.3], "format": ".1f", "title": null}},
    "y": {"field": "y", "type": "quantitative", "scale": {"domain": [-0.05, 0.45], "nice": false, "zero": false}, "axis": {"values": [0, 0.1, 0.2, 0.3, 0.4], "format": ".1f", "title": null, "minExtent": 31, "maxExtent": 31}},
    "detail": {"field": "c"}, "strokeDash": {"field": "t", "type": "nominal", "scale": {"domain": ["S", "P"], "range": [[1, 0], [5, 3]]}, "legend": null}}},
  {"data": {"name": "k"}, "transform": [{"filter": "datum.p === 'M4'"}], "mark": {"type": "rule", "color": "#8c8c8c", "strokeWidth": 0.8}, "encoding": {"x": {"field": "x", "type": "quantitative"}, "y": {"field": "y", "type": "quantitative"}, "x2": {"field": "x2"}, "y2": {"field": "y2"}}},
  {"data": {"name": "l"}, "transform": [{"filter": "datum.p === 'M4'"}], "mark": {"type": "text", "align": "left", "baseline": "middle", "fontSize": 11, "color": "#333"}, "encoding": {"x": {"field": "x", "type": "quantitative"}, "y": {"field": "y", "type": "quantitative"}, "text": {"field": "m"}}},
  {"data": {"name": "l"}, "transform": [{"filter": "datum.p === 'M4'"}], "mark": {"type": "text", "align": "left", "baseline": "middle", "fontSize": 10, "dx": 7.5, "dy": 4, "color": "#333"}, "encoding": {"x": {"field": "x", "type": "quantitative"}, "y": {"field": "y", "type": "quantitative"}, "text": {"field": "s"}}},
  {"data": {"values": [{}]}, "mark": {"type": "text", "align": "left", "baseline": "top", "fontSize": 16, "dx": 2, "dy": 2, "color": "#000"}, "encoding": {"x": {"datum": 0.85, "type": "quantitative"}, "y": {"datum": 0.45, "type": "quantitative"}, "text": {"value": "M4"}}}
 ]},
 {"width": 205, "height": 205, "layer": [
  {"data": {"name": "c"}, "transform": [{"filter": "datum.p === 'M5'"}], "mark": {"type": "line", "color": "#2b2b2b", "strokeWidth": 1.1},
   "encoding": {"x": {"field": "x", "type": "quantitative", "scale": {"domain": [0.85, 1.35], "nice": false, "zero": false}, "axis": {"values": [0.9, 1.0, 1.1, 1.2, 1.3], "format": ".1f", "title": null}},
    "y": {"field": "y", "type": "quantitative", "scale": {"domain": [-0.05, 0.45], "nice": false, "zero": false}, "axis": {"values": [0, 0.1, 0.2, 0.3, 0.4], "format": ".1f", "title": null, "minExtent": 28, "maxExtent": 28}},
    "detail": {"field": "c"}, "strokeDash": {"field": "t", "type": "nominal", "scale": {"domain": ["S", "P"], "range": [[1, 0], [5, 3]]}, "legend": null}}},
  {"data": {"name": "k"}, "transform": [{"filter": "datum.p === 'M5'"}], "mark": {"type": "rule", "color": "#8c8c8c", "strokeWidth": 0.8}, "encoding": {"x": {"field": "x", "type": "quantitative"}, "y": {"field": "y", "type": "quantitative"}, "x2": {"field": "x2"}, "y2": {"field": "y2"}}},
  {"data": {"name": "l"}, "transform": [{"filter": "datum.p === 'M5'"}], "mark": {"type": "text", "align": "left", "baseline": "middle", "fontSize": 11, "color": "#333"}, "encoding": {"x": {"field": "x", "type": "quantitative"}, "y": {"field": "y", "type": "quantitative"}, "text": {"field": "m"}}},
  {"data": {"name": "l"}, "transform": [{"filter": "datum.p === 'M5'"}], "mark": {"type": "text", "align": "left", "baseline": "middle", "fontSize": 10, "dx": 7.5, "dy": 4, "color": "#333"}, "encoding": {"x": {"field": "x", "type": "quantitative"}, "y": {"field": "y", "type": "quantitative"}, "text": {"field": "s"}}},
  {"data": {"values": [{}]}, "mark": {"type": "text", "align": "left", "baseline": "top", "fontSize": 16, "dx": 2, "dy": 2, "color": "#000"}, "encoding": {"x": {"datum": 0.85, "type": "quantitative"}, "y": {"datum": 0.45, "type": "quantitative"}, "text": {"value": "M5"}}}
 ]},
 {"width": 204, "height": 205, "layer": [
  {"data": {"name": "c"}, "transform": [{"filter": "datum.p === 'M6'"}], "mark": {"type": "line", "color": "#2b2b2b", "strokeWidth": 1.1},
   "encoding": {"x": {"field": "x", "type": "quantitative", "scale": {"domain": [0.85, 1.35], "nice": false, "zero": false}, "axis": {"values": [0.9, 1.0, 1.1, 1.2, 1.3], "format": ".1f", "title": null}},
    "y": {"field": "y", "type": "quantitative", "scale": {"domain": [-0.05, 0.45], "nice": false, "zero": false}, "axis": {"values": [0, 0.1, 0.2, 0.3, 0.4], "format": ".1f", "title": null, "minExtent": 40, "maxExtent": 40}},
    "detail": {"field": "c"}, "strokeDash": {"field": "t", "type": "nominal", "scale": {"domain": ["S", "P"], "range": [[1, 0], [5, 3]]}, "legend": null}}},
  {"data": {"name": "k"}, "transform": [{"filter": "datum.p === 'M6'"}], "mark": {"type": "rule", "color": "#8c8c8c", "strokeWidth": 0.8}, "encoding": {"x": {"field": "x", "type": "quantitative"}, "y": {"field": "y", "type": "quantitative"}, "x2": {"field": "x2"}, "y2": {"field": "y2"}}},
  {"data": {"name": "l"}, "transform": [{"filter": "datum.p === 'M6'"}], "mark": {"type": "text", "align": "left", "baseline": "middle", "fontSize": 11, "color": "#333"}, "encoding": {"x": {"field": "x", "type": "quantitative"}, "y": {"field": "y", "type": "quantitative"}, "text": {"field": "m"}}},
  {"data": {"name": "l"}, "transform": [{"filter": "datum.p === 'M6'"}], "mark": {"type": "text", "align": "left", "baseline": "middle", "fontSize": 10, "dx": 7.5, "dy": 4, "color": "#333"}, "encoding": {"x": {"field": "x", "type": "quantitative"}, "y": {"field": "y", "type": "quantitative"}, "text": {"field": "s"}}},
  {"data": {"values": [{}]}, "mark": {"type": "text", "align": "left", "baseline": "top", "fontSize": 16, "dx": 2, "dy": 2, "color": "#000"}, "encoding": {"x": {"datum": 0.85, "type": "quantitative"}, "y": {"datum": 0.45, "type": "quantitative"}, "text": {"value": "M6"}}}
 ]}
], "spacing": 0},
{"hconcat": [
 {"width": 203, "height": 205, "layer": [
  {"data": {"name": "c"}, "transform": [{"filter": "datum.p === 'M7'"}], "mark": {"type": "line", "color": "#2b2b2b", "strokeWidth": 1.1},
   "encoding": {"x": {"field": "x", "type": "quantitative", "scale": {"domain": [0.85, 1.35], "nice": false, "zero": false}, "axis": {"values": [0.9, 1.0, 1.1, 1.2, 1.3], "format": ".1f", "title": null}},
    "y": {"field": "y", "type": "quantitative", "scale": {"domain": [-0.05, 0.45], "nice": false, "zero": false}, "axis": {"values": [0, 0.1, 0.2, 0.3, 0.4], "format": ".1f", "title": null, "minExtent": 31, "maxExtent": 31}},
    "detail": {"field": "c"}, "strokeDash": {"field": "t", "type": "nominal", "scale": {"domain": ["S", "P"], "range": [[1, 0], [5, 3]]}, "legend": null}}},
  {"data": {"name": "k"}, "transform": [{"filter": "datum.p === 'M7'"}], "mark": {"type": "rule", "color": "#8c8c8c", "strokeWidth": 0.8}, "encoding": {"x": {"field": "x", "type": "quantitative"}, "y": {"field": "y", "type": "quantitative"}, "x2": {"field": "x2"}, "y2": {"field": "y2"}}},
  {"data": {"name": "l"}, "transform": [{"filter": "datum.p === 'M7'"}], "mark": {"type": "text", "align": "left", "baseline": "middle", "fontSize": 11, "color": "#333"}, "encoding": {"x": {"field": "x", "type": "quantitative"}, "y": {"field": "y", "type": "quantitative"}, "text": {"field": "m"}}},
  {"data": {"name": "l"}, "transform": [{"filter": "datum.p === 'M7'"}], "mark": {"type": "text", "align": "left", "baseline": "middle", "fontSize": 10, "dx": 7.5, "dy": 4, "color": "#333"}, "encoding": {"x": {"field": "x", "type": "quantitative"}, "y": {"field": "y", "type": "quantitative"}, "text": {"field": "s"}}},
  {"data": {"values": [{}]}, "mark": {"type": "text", "align": "left", "baseline": "top", "fontSize": 16, "dx": 2, "dy": 2, "color": "#000"}, "encoding": {"x": {"datum": 0.85, "type": "quantitative"}, "y": {"datum": 0.45, "type": "quantitative"}, "text": {"value": "M7"}}}
 ]},
 {"width": 205, "height": 205, "layer": [
  {"data": {"name": "c"}, "transform": [{"filter": "datum.p === 'M8'"}], "mark": {"type": "line", "color": "#2b2b2b", "strokeWidth": 1.1},
   "encoding": {"x": {"field": "x", "type": "quantitative", "scale": {"domain": [0.797, 1.303], "nice": false, "zero": false}, "axis": {"values": [0.8, 0.9, 1.0, 1.1, 1.2, 1.3], "format": ".1f", "title": null, "gridOpacity": {"condition": {"test": "datum.value < 0.85 || datum.value > 1.25", "value": 0}, "value": 1}}},
    "y": {"field": "y", "type": "quantitative", "scale": {"domain": [-0.05, 0.45], "nice": false, "zero": false}, "axis": {"values": [0, 0.1, 0.2, 0.3, 0.4], "format": ".1f", "title": null, "minExtent": 28, "maxExtent": 28}},
    "detail": {"field": "c"}, "strokeDash": {"field": "t", "type": "nominal", "scale": {"domain": ["S", "P"], "range": [[1, 0], [5, 3]]}, "legend": null}}},
  {"data": {"name": "k"}, "transform": [{"filter": "datum.p === 'M8'"}], "mark": {"type": "rule", "color": "#8c8c8c", "strokeWidth": 0.8}, "encoding": {"x": {"field": "x", "type": "quantitative"}, "y": {"field": "y", "type": "quantitative"}, "x2": {"field": "x2"}, "y2": {"field": "y2"}}},
  {"data": {"name": "l"}, "transform": [{"filter": "datum.p === 'M8'"}], "mark": {"type": "text", "align": "left", "baseline": "middle", "fontSize": 11, "color": "#333"}, "encoding": {"x": {"field": "x", "type": "quantitative"}, "y": {"field": "y", "type": "quantitative"}, "text": {"field": "m"}}},
  {"data": {"name": "l"}, "transform": [{"filter": "datum.p === 'M8'"}], "mark": {"type": "text", "align": "left", "baseline": "middle", "fontSize": 10, "dx": 7.5, "dy": 4, "color": "#333"}, "encoding": {"x": {"field": "x", "type": "quantitative"}, "y": {"field": "y", "type": "quantitative"}, "text": {"field": "s"}}},
  {"data": {"values": [{}]}, "mark": {"type": "text", "align": "left", "baseline": "top", "fontSize": 16, "dx": 2, "dy": 2, "color": "#000"}, "encoding": {"x": {"datum": 0.797, "type": "quantitative"}, "y": {"datum": 0.45, "type": "quantitative"}, "text": {"value": "M8"}}}
 ]},
 {"width": 204, "height": 205, "layer": [
  {"data": {"name": "c"}, "transform": [{"filter": "datum.p === 'M9'"}], "mark": {"type": "line", "color": "#2b2b2b", "strokeWidth": 1.1},
   "encoding": {"x": {"field": "x", "type": "quantitative", "scale": {"domain": [0.85, 1.35], "nice": false, "zero": false}, "axis": {"values": [0.9, 1.0, 1.1, 1.2, 1.3], "format": ".1f", "title": null}},
    "y": {"field": "y", "type": "quantitative", "scale": {"domain": [-0.05, 0.45], "nice": false, "zero": false}, "axis": {"values": [0, 0.1, 0.2, 0.3, 0.4], "format": ".1f", "title": null, "minExtent": 32, "maxExtent": 32}},
    "detail": {"field": "c"}, "strokeDash": {"field": "t", "type": "nominal", "scale": {"domain": ["S", "P"], "range": [[1, 0], [5, 3]]}, "legend": null}}},
  {"data": {"name": "k"}, "transform": [{"filter": "datum.p === 'M9'"}], "mark": {"type": "rule", "color": "#8c8c8c", "strokeWidth": 0.8}, "encoding": {"x": {"field": "x", "type": "quantitative"}, "y": {"field": "y", "type": "quantitative"}, "x2": {"field": "x2"}, "y2": {"field": "y2"}}},
  {"data": {"name": "l"}, "transform": [{"filter": "datum.p === 'M9'"}], "mark": {"type": "text", "align": "left", "baseline": "middle", "fontSize": 11, "color": "#333"}, "encoding": {"x": {"field": "x", "type": "quantitative"}, "y": {"field": "y", "type": "quantitative"}, "text": {"field": "m"}}},
  {"data": {"name": "l"}, "transform": [{"filter": "datum.p === 'M9'"}], "mark": {"type": "text", "align": "left", "baseline": "middle", "fontSize": 10, "dx": 7.5, "dy": 4, "color": "#333"}, "encoding": {"x": {"field": "x", "type": "quantitative"}, "y": {"field": "y", "type": "quantitative"}, "text": {"field": "s"}}},
  {"data": {"values": [{}]}, "mark": {"type": "text", "align": "left", "baseline": "top", "fontSize": 16, "dx": 2, "dy": 2, "color": "#000"}, "encoding": {"x": {"datum": 0.85, "type": "quantitative"}, "y": {"datum": 0.45, "type": "quantitative"}, "text": {"value": "M9"}}}
 ]}
], "spacing": 0},
{"hconcat": [
 {"width": 203, "height": 205, "layer": [
  {"data": {"name": "c"}, "transform": [{"filter": "datum.p === 'M10'"}], "mark": {"type": "line", "color": "#2b2b2b", "strokeWidth": 1.1},
   "encoding": {"x": {"field": "x", "type": "quantitative", "scale": {"domain": [0.85, 1.35], "nice": false, "zero": false}, "axis": {"values": [0.9, 1.0, 1.1, 1.2, 1.3], "format": ".1f", "title": null}},
    "y": {"field": "y", "type": "quantitative", "scale": {"domain": [-0.05, 0.45], "nice": false, "zero": false}, "axis": {"values": [0, 0.1, 0.2, 0.3, 0.4], "format": ".1f", "title": null, "minExtent": 31, "maxExtent": 31}},
    "detail": {"field": "c"}, "strokeDash": {"field": "t", "type": "nominal", "scale": {"domain": ["S", "P"], "range": [[1, 0], [5, 3]]}, "legend": null}}},
  {"data": {"name": "k"}, "transform": [{"filter": "datum.p === 'M10'"}], "mark": {"type": "rule", "color": "#8c8c8c", "strokeWidth": 0.8}, "encoding": {"x": {"field": "x", "type": "quantitative"}, "y": {"field": "y", "type": "quantitative"}, "x2": {"field": "x2"}, "y2": {"field": "y2"}}},
  {"data": {"name": "l"}, "transform": [{"filter": "datum.p === 'M10'"}], "mark": {"type": "text", "align": "left", "baseline": "middle", "fontSize": 11, "color": "#333"}, "encoding": {"x": {"field": "x", "type": "quantitative"}, "y": {"field": "y", "type": "quantitative"}, "text": {"field": "m"}}},
  {"data": {"name": "l"}, "transform": [{"filter": "datum.p === 'M10'"}], "mark": {"type": "text", "align": "left", "baseline": "middle", "fontSize": 10, "dx": 7.5, "dy": 4, "color": "#333"}, "encoding": {"x": {"field": "x", "type": "quantitative"}, "y": {"field": "y", "type": "quantitative"}, "text": {"field": "s"}}},
  {"data": {"values": [{}]}, "mark": {"type": "text", "align": "left", "baseline": "top", "fontSize": 16, "dx": 2, "dy": 2, "color": "#000"}, "encoding": {"x": {"datum": 0.85, "type": "quantitative"}, "y": {"datum": 0.45, "type": "quantitative"}, "text": {"value": "M10"}}}
 ]},
 {"width": 205, "height": 205, "layer": [
  {"data": {"name": "c"}, "transform": [{"filter": "datum.p === 'M11'"}], "mark": {"type": "line", "color": "#2b2b2b", "strokeWidth": 1.1},
   "encoding": {"x": {"field": "x", "type": "quantitative", "scale": {"domain": [0.85, 1.35], "nice": false, "zero": false}, "axis": {"values": [0.9, 1.0, 1.1, 1.2, 1.3], "format": ".1f", "title": "Stretch"}},
    "y": {"field": "y", "type": "quantitative", "scale": {"domain": [-0.05, 0.45], "nice": false, "zero": false}, "axis": {"values": [0, 0.1, 0.2, 0.3, 0.4], "format": ".1f", "title": null, "minExtent": 28, "maxExtent": 28}},
    "detail": {"field": "c"}, "strokeDash": {"field": "t", "type": "nominal", "scale": {"domain": ["S", "P"], "range": [[1, 0], [5, 3]]}, "legend": null}}},
  {"data": {"name": "k"}, "transform": [{"filter": "datum.p === 'M11'"}], "mark": {"type": "rule", "color": "#8c8c8c", "strokeWidth": 0.8}, "encoding": {"x": {"field": "x", "type": "quantitative"}, "y": {"field": "y", "type": "quantitative"}, "x2": {"field": "x2"}, "y2": {"field": "y2"}}},
  {"data": {"name": "l"}, "transform": [{"filter": "datum.p === 'M11'"}], "mark": {"type": "text", "align": "left", "baseline": "middle", "fontSize": 11, "color": "#333"}, "encoding": {"x": {"field": "x", "type": "quantitative"}, "y": {"field": "y", "type": "quantitative"}, "text": {"field": "m"}}},
  {"data": {"name": "l"}, "transform": [{"filter": "datum.p === 'M11'"}], "mark": {"type": "text", "align": "left", "baseline": "middle", "fontSize": 10, "dx": 7.5, "dy": 4, "color": "#333"}, "encoding": {"x": {"field": "x", "type": "quantitative"}, "y": {"field": "y", "type": "quantitative"}, "text": {"field": "s"}}},
  {"data": {"values": [{}]}, "mark": {"type": "text", "align": "left", "baseline": "top", "fontSize": 16, "dx": 2, "dy": 2, "color": "#000"}, "encoding": {"x": {"datum": 0.85, "type": "quantitative"}, "y": {"datum": 0.45, "type": "quantitative"}, "text": {"value": "M11"}}}
 ]},
 {"width": 204, "height": 205, "layer": [
  {"data": {"name": "c"}, "transform": [{"filter": "datum.p === 'M12'"}], "mark": {"type": "line", "color": "#2b2b2b", "strokeWidth": 1.1},
   "encoding": {"x": {"field": "x", "type": "quantitative", "scale": {"domain": [0.85, 1.35], "nice": false, "zero": false}, "axis": {"values": [0.9, 1.0, 1.1, 1.2, 1.3], "format": ".1f", "title": null}},
    "y": {"field": "y", "type": "quantitative", "scale": {"domain": [-0.05, 0.45], "nice": false, "zero": false}, "axis": {"values": [0, 0.1, 0.2, 0.3, 0.4], "format": ".1f", "title": null, "minExtent": 40, "maxExtent": 40}},
    "detail": {"field": "c"}, "strokeDash": {"field": "t", "type": "nominal", "scale": {"domain": ["S", "P"], "range": [[1, 0], [5, 3]]}, "legend": null}}},
  {"data": {"name": "k"}, "transform": [{"filter": "datum.p === 'M12'"}], "mark": {"type": "rule", "color": "#8c8c8c", "strokeWidth": 0.8}, "encoding": {"x": {"field": "x", "type": "quantitative"}, "y": {"field": "y", "type": "quantitative"}, "x2": {"field": "x2"}, "y2": {"field": "y2"}}},
  {"data": {"name": "l"}, "transform": [{"filter": "datum.p === 'M12'"}], "mark": {"type": "text", "align": "left", "baseline": "middle", "fontSize": 11, "color": "#333"}, "encoding": {"x": {"field": "x", "type": "quantitative"}, "y": {"field": "y", "type": "quantitative"}, "text": {"field": "m"}}},
  {"data": {"name": "l"}, "transform": [{"filter": "datum.p === 'M12'"}], "mark": {"type": "text", "align": "left", "baseline": "middle", "fontSize": 10, "dx": 7.5, "dy": 4, "color": "#333"}, "encoding": {"x": {"field": "x", "type": "quantitative"}, "y": {"field": "y", "type": "quantitative"}, "text": {"field": "s"}}},
  {"data": {"values": [{}]}, "mark": {"type": "text", "align": "left", "baseline": "top", "fontSize": 16, "dx": 2, "dy": 2, "color": "#000"}, "encoding": {"x": {"datum": 0.85, "type": "quantitative"}, "y": {"datum": 0.45, "type": "quantitative"}, "text": {"value": "M12"}}}
 ]}
], "spacing": 0}
],
"spacing": 9
}
